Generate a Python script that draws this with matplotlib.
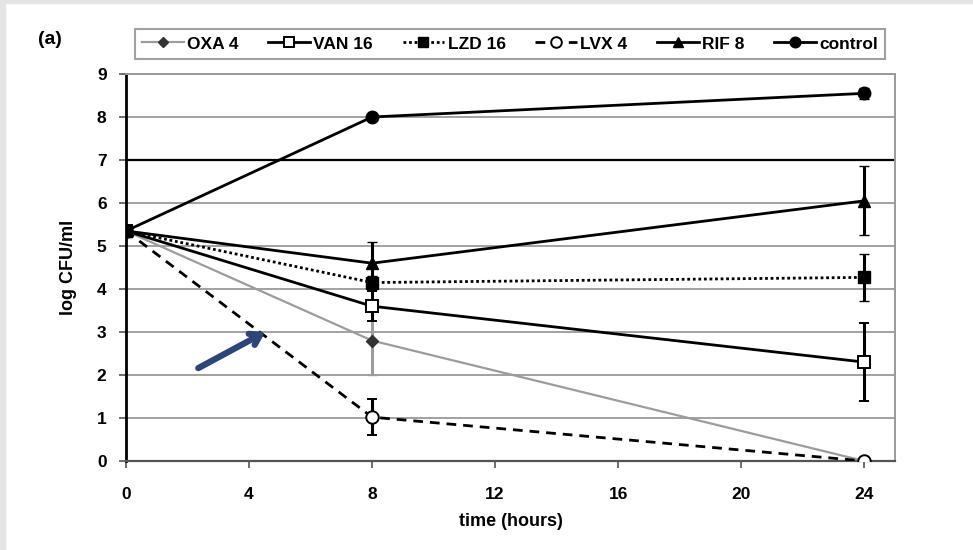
import numpy as np
import matplotlib
matplotlib.use("Agg")
import matplotlib.pyplot as plt
from matplotlib.patches import Rectangle
from matplotlib.lines import Line2D

plt.rcParams["font.family"] = ["Liberation Sans", "DejaVu Sans"]

# sampling times (hours)
hours = [0, 8, 24]

# mean log CFU/ml and error per regimen
oxa = [5.35, 2.8, 0.0]
oxa_err = [0.0, 0.8, 0.0]
van = [5.35, 3.6, 2.3]
van_err = [0.0, 0.35, 0.9]
lzd = [5.35, 4.15, 4.27]
lzd_err = [0.0, 0.15, 0.55]
lvx = [5.35, 1.02, 0.0]
lvx_err = [0.0, 0.42, 0.0]
rif = [5.35, 4.6, 6.05]
rif_err = [0.0, 0.5, 0.8]
control = [5.35, 8.0, 8.55]
control_err = [0.0, 0.08, 0.12]

x_ticks = [0, 4, 8, 12, 16, 20, 24]
y_ticks = list(range(0, 10))

fig = plt.figure(figsize=(9.73, 5.5), dpi=100)
fig.patches.append(Rectangle((0, 0), 5 / 973, 1, transform=fig.transFigure,
                             color="#e4e4e4", zorder=0))
fig.patches.append(Rectangle((0, 1 - 3 / 550), 1, 3 / 550, transform=fig.transFigure,
                             color="#e4e4e4", zorder=0))

ax = fig.add_axes([126 / 973, 1 - 461 / 550, 769 / 973, 387 / 550])

# horizontal grid, breakpoint at 7 drawn dark
for yv in y_ticks[1:]:
    ax.axhline(yv, color="black" if yv == 7 else "#9a9a9a",
               lw=1.6 if yv == 7 else 1.3, zorder=1)

common = dict(capsize=3.5, elinewidth=2.2, capthick=2.2, zorder=3)

styles = [
    ("OXA 4", oxa, oxa_err, dict(color="#9c9c9c", lw=1.6, ls="-", marker="D", ms=6,
                                 mfc="#333333", mec="#333333", mew=1.0)),
    ("VAN 16", van, van_err, dict(color="black", lw=2.0, ls="-", marker="s", ms=8,
                                  mfc="white", mec="black", mew=1.4)),
    ("LZD 16", lzd, lzd_err, dict(color="black", lw=2.0, ls=(0, (1, 1)), marker="s", ms=8,
                                  mfc="black", mec="black", mew=1.0)),
    ("LVX 4", lvx, lvx_err, dict(color="black", lw=2.0, ls=(0, (3.5, 2.5)), marker="o", ms=9,
                                 mfc="white", mec="black", mew=1.4)),
    ("RIF 8", rif, rif_err, dict(color="black", lw=2.0, ls="-", marker="^", ms=8,
                                 mfc="black", mec="black", mew=1.0)),
    ("control", control, control_err, dict(color="black", lw=2.0, ls="-", marker="o", ms=9,
                                           mfc="black", mec="black", mew=1.0)),
]

handles = []
for name, vals, errs, st in styles:
    ax.errorbar(hours, vals, yerr=errs, ecolor=st["color"], **st, **common)
    leg_st = dict(st)
    leg_st["ms"] = st["ms"] * 0.85
    handles.append(Line2D([], [], label=name, **leg_st))

ax.set_xlim(0, 25)
ax.set_ylim(0, 9)
ax.set_xticks(x_ticks)
ax.set_yticks(y_ticks)
ax.tick_params(axis="both", direction="out", length=5, width=1.2,
               labelsize=12.5, color="#555555")
ax.tick_params(axis="y", pad=9)
ax.tick_params(axis="x", pad=14)
for lbl in ax.get_xticklabels() + ax.get_yticklabels():
    lbl.set_fontweight("bold")

ax.spines["left"].set_color("black")
ax.spines["left"].set_linewidth(2.0)
ax.spines["bottom"].set_color("#555555")
ax.spines["bottom"].set_linewidth(1.6)
for side in ("top", "right"):
    ax.spines[side].set_color("#9a9a9a")
    ax.spines[side].set_linewidth(1.4)

ax.set_xlabel("time (hours)", fontsize=13, fontweight="bold", labelpad=8)
ax.set_ylabel("log CFU/ml", fontsize=13, fontweight="bold", labelpad=14)

leg = ax.legend(handles=handles, loc="lower left",
                bbox_to_anchor=(0.012, 1.04, 0.975, 0.08), mode="expand", ncol=6,
                frameon=True, fancybox=False, handlelength=2.4,
                handletextpad=0.2, columnspacing=0.4, borderpad=0.4,
                borderaxespad=0.0, prop={"size": 12.5, "weight": "bold"})
leg.get_frame().set_edgecolor("#8a8a8a")
leg.get_frame().set_linewidth(1.5)

fig.text(38 / 973, 1 - 40 / 550, "(a)", fontsize=14, fontweight="bold",
         va="center", ha="left")

# arrow pointing at the LVX curve
ax.annotate("", xy=(4.53, 3.0), xytext=(2.35, 2.16),
            arrowprops=dict(arrowstyle="->,head_length=0.7,head_width=0.45",
                            color="#2c4679", lw=4.5, shrinkA=0, shrinkB=0),
            zorder=5)

fig.savefig("out.png", dpi=100, facecolor="white")
